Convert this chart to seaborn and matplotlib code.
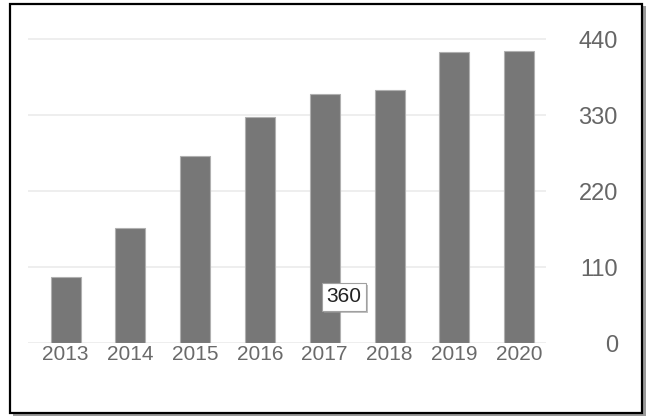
import matplotlib
matplotlib.use('Agg')
import matplotlib.pyplot as plt
import matplotlib.patheffects as pe
from matplotlib.patches import Rectangle
import seaborn as sns
import pandas as pd

years = ['2013', '2014', '2015', '2016', '2017', '2018', '2019', '2020']
values = [95, 166, 270, 327, 360, 366, 421, 423]
y_ticks = [0, 110, 220, 330, 440]
tooltip_index = 4
tooltip_text = '360'

sns.set_style('white')
plt.rcParams['font.family'] = ['Liberation Sans', 'DejaVu Sans']

W, H = 646, 416
fig = plt.figure(figsize=(W / 100, H / 100), dpi=100)
fig.patch.set_facecolor('white')

# frame with drop shadow
fig.patches.append(Rectangle((13 / W, 0 / H), 633 / W, 410 / H, transform=fig.transFigure,
                             facecolor='#9a9a9a', edgecolor='none', zorder=-3))
fig.patches.append(Rectangle((10 / W, 3 / H), 632 / W, 409 / H, transform=fig.transFigure,
                             facecolor='white', edgecolor='black', linewidth=1.6, zorder=-2))

ax = fig.add_axes([28 / W, 73 / H, 518 / W, 318 / H])
ax.patch.set_alpha(0)

df = pd.DataFrame({'year': years, 'value': values})
sns.barplot(data=df, x='year', y='value', color='#777777', saturation=1, width=0.463,
            edgecolor='#b0b0b0', linewidth=0.8, ax=ax)

ax.set_xlim(-0.579, 7.415)
ax.set_ylim(0, 460.3)
ax.set_yticks(y_ticks)
ax.yaxis.tick_right()
ax.grid(axis='y', color='#ebebeb', linewidth=1.2)
ax.grid(axis='x', visible=False)
ax.set_axisbelow(True)
for s in ax.spines.values():
    s.set_visible(False)
ax.tick_params(axis='y', length=0, pad=51.8, labelsize=17, labelcolor='#666666')
plt.setp(ax.get_yticklabels(), ha='right')
ax.tick_params(axis='x', length=0, pad=1.5, labelsize=15, labelcolor='#6a6a6a')
ax.set_xlabel('')
ax.set_ylabel('')

t = ax.text(tooltip_index + 0.03, 67, tooltip_text, ha='left', va='center', fontsize=15,
            color='#222222',
            bbox=dict(boxstyle='square,pad=0.22', facecolor='white', edgecolor='#a0a0a0', linewidth=0.8))
t.get_bbox_patch().set_path_effects([pe.SimplePatchShadow(offset=(1.5, -1.5), shadow_rgbFace='#999999', alpha=0.6), pe.Normal()])

fig.savefig('out.png', dpi=100)
